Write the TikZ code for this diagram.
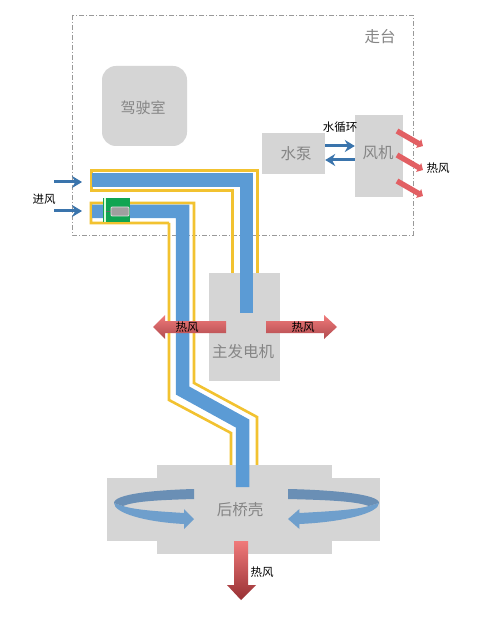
\documentclass[tikz,border=0pt]{standalone}
\usepackage{fontspec}
\setmainfont{Noto Sans CJK SC}
\usetikzlibrary{arrows.meta,shadings}
\definecolor{boxgray}{HTML}{D5D5D5}
\definecolor{txtgray}{HTML}{858585}
\definecolor{ductblue}{HTML}{5B9BD5}
\definecolor{ductyellow}{HTML}{F2C230}
\definecolor{flowblue}{HTML}{3A74AC}
\definecolor{fanred}{HTML}{E25F63}
\definecolor{swirlA}{HTML}{6A8FB5}
\definecolor{swirlB}{HTML}{6F9FCC}
\definecolor{motorgreen}{HTML}{10A552}
\definecolor{redtop}{HTML}{F07A7A}
\definecolor{redbot}{HTML}{B04A4E}
\definecolor{reddark}{HTML}{983034}
\tikzset{
  gbox/.style={fill=boxgray,draw=none,inner sep=0pt},
  gtext/.style={inner sep=0pt,text=txtgray,font=\fontsize{15.5}{16}\selectfont},
  btext/.style={inner sep=0pt,text=black,font=\fontsize{11.5}{12}\selectfont},
  yline/.style={draw=ductyellow,line width=#1,miter limit=10},
  bduct/.style={draw=ductblue,line width=13.5pt},
  flow/.style={draw=flowblue,line width=3pt,-{Stealth[length=10pt,width=12pt]}},
  fanarrow/.style={draw=fanred,line width=5.4pt,-{Triangle[length=5pt,width=10pt]}}
}
\newcommand{\swirlshape}{%
  \fill[swirlB] (114,503) .. controls (114,513) and (145,522) .. (184,524)
     -- (184,529) -- (194,519) -- (184,509) -- (184,513)
     .. controls (160,511.5) and (135,510) .. (123,506) -- cycle;
  \fill[swirlA] (194,489) .. controls (155,490) and (114,494) .. (114,503)
     -- (123,506) .. controls (135,501) and (160,500) .. (194,499) -- cycle;
}
\begin{document}
\begin{tikzpicture}[x=1pt,y=-1pt]
\useasboundingbox (0,0) rectangle (481,617);
\fill[white] (0,0) rectangle (481,617);
% deck outline
\draw[draw=gray!80,line width=.7pt,dash pattern=on 5pt off 2pt on 1pt off 2pt] (72,15) rectangle (413,235);
\node[gtext] (deck) at (380,37) {走台};
% grey equipment
\node[gbox,rounded corners=14pt,minimum width=85pt,minimum height=80pt] (cab) at (144.5,106) {};
\node[gtext,font=\fontsize{15}{16}\selectfont] (cablabel) at (143,108) {驾驶室};
\node[gbox,minimum width=63pt,minimum height=41pt] (pump) at (293.5,153.5) {};
\node[gtext] (pumplabel) at (296,154) {水泵};
\node[gbox,minimum width=48pt,minimum height=82pt] (fan) at (379,156) {};
\node[gtext] (fanlabel) at (378,153) {风机};
% yellow duct casings
\draw[yline=3pt] (232,274) -- (232,191) -- (91,191) -- (91,171) -- (257,171) -- (257,274);
\draw[yline=2.6pt] (169,223) -- (91,223) -- (91,203) -- (194,203) -- (194,383) -- (257,417) -- (257,466);
\draw[yline=2.6pt] (169,223) -- (169,400) -- (231,433) -- (231,466);
% remaining grey equipment covers casing ends
\node[gbox,minimum width=71pt,minimum height=108pt] (gen) at (244.5,327) {};
\node[gtext] (genlabel) at (243,352) {主发电机};
\fill[boxgray] (107,478) rectangle (380,541);
\node[gbox,minimum width=175pt,minimum height=89pt] (axle) at (244.5,509.5) {};
\node[gtext] (axlelabel) at (240,510) {后桥壳};
% blue ducts
\draw[bduct] (92,180) -- (246.5,180) -- (246.5,313);
\draw[bduct] (92,211.5) -- (182.5,211.5) -- (182.5,390.5) -- (242.5,423.5) -- (242.5,487);
% fan-drive motor
\node[fill=motorgreen,minimum width=27pt,minimum height=24pt,inner sep=0pt] (motor) at (116.5,210) {};
\fill[white!85!green] (104,198) rectangle (106,222);
\draw[gray!80!black] (106,211) -- (111,211);
\node[fill=gray!75,draw=gray!25,line width=.8pt,rounded corners=1pt,minimum width=18pt,minimum height=9pt,inner sep=0pt] (motorcore) at (120,211.5) {};
% hot air arrows at generator
\path[shade,top color=redtop,bottom color=redbot] (226,321) -- (165,321) -- (165,315) -- (153,327) -- (165,339) -- (165,333) -- (226,333) -- cycle;
\path[shade,top color=redtop,bottom color=redbot] (266,321) -- (324,321) -- (324,315) -- (337,327) -- (324,339) -- (324,333) -- (266,333) -- cycle;
% hot air arrow at axle
\path[shade,top color=redtop,middle color=redtop!85!reddark,bottom color=reddark] (234,541) -- (248,541) -- (248,585) -- (256,585) -- (241,600) -- (227,585) -- (234,585) -- cycle;
% swirls
\begin{scope}\swirlshape\end{scope}
\begin{scope}[xshift=508.7pt,xscale=-1.1375]\swirlshape\end{scope}
% flow arrows
\coordinate (inA) at (54,182);
\coordinate (inAend) at (82,182);
\coordinate (inB) at (54,211);
\coordinate (inBend) at (82,211);
\draw[flow] (inA) -- (inAend);
\draw[flow] (inB) -- (inBend);
\draw[flow] (pump.east |- 0,146) -- (fan.west |- 0,146);
\draw[flow] (fan.west |- 0,160) -- (pump.east |- 0,160);
\coordinate (fa1) at (397,131);
\coordinate (fa1e) at (423,146);
\coordinate (fa2) at (397,155);
\coordinate (fa2e) at (423,170);
\coordinate (fa3) at (397,181);
\coordinate (fa3e) at (423,196);
\draw[fanarrow] (fa1) -- (fa1e);
\draw[fanarrow] (fa2) -- (fa2e);
\draw[fanarrow] (fa3) -- (fa3e);
% labels
\node[btext] (lin) at (44,199) {进风};
\node[btext] (lwater) at (340,127) {水循环};
\node[btext] (lh1) at (438,168) {热风};
\node[btext] (lh2) at (187,327) {热风};
\node[btext] (lh3) at (303,327) {热风};
\node[btext] (lh4) at (262,572) {热风};
\end{tikzpicture}
\end{document}
